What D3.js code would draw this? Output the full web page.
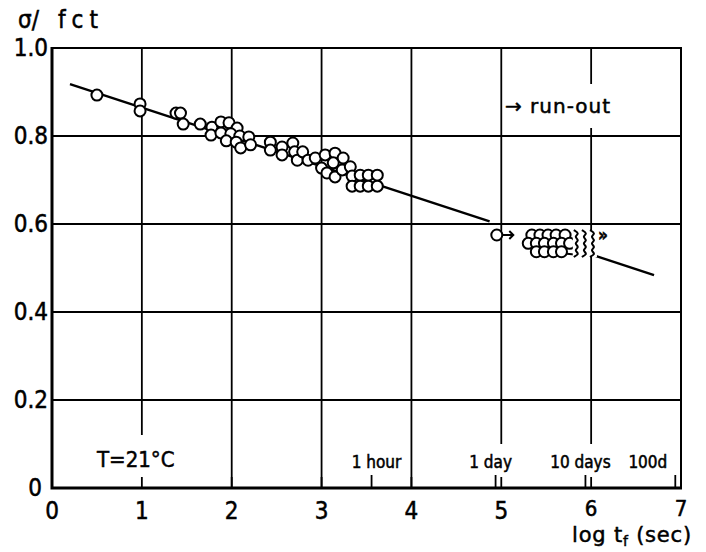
<!DOCTYPE html>
<html>
<head>
<meta charset="utf-8">
<script src="https://cdn.jsdelivr.net/npm/d3@7"></script>
<style>
  body { margin: 0; background: #fff; }
  svg { display: block; font-family: "DejaVu Sans Condensed", "DejaVu Sans", sans-serif; }
  text { fill: #000; stroke: #000; stroke-width: 0.5px; }
</style>
</head>
<body>
<svg id="chart" width="706" height="552"></svg>
<script>
// axes
const xTicks = [0, 1, 2, 3, 4, 5, 6, 7];
const yTicks = [0, 0.2, 0.4, 0.6, 0.8, 1.0];
const yTickLabels = ["0", "0.2", "0.4", "0.6", "0.8", "1.0"];

// time markers along the log t axis
const timeLabels = ["1 hour", "1 day", "10 days", "100d"];
const timeSeconds = [3600, 86400, 864000, 8640000];

// failed specimens: log tf (sec) and sigma/fct
const failX = [0.50, 0.98, 0.98, 1.38, 1.43,
  1.46, 1.65, 1.78, 1.88, 1.97, 2.06, 1.77, 1.88, 1.99, 2.09, 2.19, 1.94, 2.05, 2.10, 2.21,
  2.43, 2.43, 2.56, 2.56, 2.68, 2.70, 2.73, 2.79, 2.85, 2.93,
  3.04, 3.15, 3.24, 3.00, 3.13, 3.06, 3.15, 3.23, 3.32, 3.34, 3.43, 3.52, 3.62, 3.34, 3.43, 3.52, 3.62];
const failY = [0.893, 0.873, 0.857, 0.852, 0.852,
  0.827, 0.827, 0.820, 0.832, 0.830, 0.818, 0.802, 0.807, 0.805, 0.800, 0.798, 0.789, 0.786, 0.773, 0.780,
  0.786, 0.768, 0.775, 0.757, 0.784, 0.764, 0.745, 0.764, 0.745, 0.750,
  0.757, 0.761, 0.750, 0.727, 0.739, 0.716, 0.707, 0.723, 0.730, 0.709, 0.711, 0.711, 0.711, 0.686, 0.686, 0.686, 0.686];

// run-out specimens
const runX = [4.95,
  5.34, 5.43, 5.52, 5.61, 5.71,
  5.30, 5.39, 5.48, 5.58, 5.67, 5.76,
  5.39, 5.48, 5.58, 5.67];
const runY = [0.575,
  0.575, 0.575, 0.575, 0.575, 0.575,
  0.556, 0.556, 0.556, 0.556, 0.556, 0.556,
  0.537, 0.537, 0.537, 0.537];

// wavy run-out tails to the right of the group
const tailX = [5.84, 5.93, 6.02];
const tailTop = 0.586;
const tailBottom = 0.525;

// fitted line, in two pieces around the run-out marks
const fitA = [[0.2, 0.918], [4.87, 0.606]];
const fitB = [[6.04, 0.528], [6.7, 0.484]];

const svg = d3.select("#chart");
const x = d3.scaleLinear().domain([0, 7]).range([52, 681]);
const y = d3.scaleLinear().domain([0, 1]).range([488, 48]);

const gGrid = svg.append("g");
const gBox = svg.append("g");
const gFrame = svg.append("g");
const gLine = svg.append("g");
const gPts = svg.append("g");
const gText = svg.append("g");

// grid
gGrid.selectAll("line.v")
  .data(xTicks.slice(1, -1))
  .join("line")
  .attr("x1", d => x(d)).attr("x2", d => x(d))
  .attr("y1", y(1)).attr("y2", y(0))
  .attr("stroke", "#000").attr("stroke-width", 1.8);

gGrid.selectAll("line.h")
  .data(yTicks.slice(1, -1))
  .join("line")
  .attr("x1", x(0)).attr("x2", x(7))
  .attr("y1", d => y(d)).attr("y2", d => y(d))
  .attr("stroke", "#000").attr("stroke-width", 1.8);

// labels inside the plot get a white box, which cuts the grid like in the print
function plotLabel(txt, px, py, size, anchor, padTop, toAxis) {
  const t = gText.append("text")
    .attr("x", px).attr("y", py)
    .attr("text-anchor", anchor)
    .style("font-size", size + "px")
    .text(txt);
  const b = t.node().getBBox();
  const y0 = b.y - padTop;
  const y1 = toAxis ? y(0) : b.y + b.height + padTop;
  gBox.append("rect")
    .attr("x", b.x - 2).attr("y", y0)
    .attr("width", b.width + 4).attr("height", y1 - y0)
    .attr("fill", "#fff");
  return t;
}

plotLabel("T=21°C", 97, 467, 22, "start", 12, true);
timeLabels.forEach((lab, i) => {
  const tx = x(Math.log10(timeSeconds[i]));
  const last = i === timeLabels.length - 1;
  plotLabel(lab, last ? tx - 8 : tx + (i === 0 ? 5 : -5), 468, 17, last ? "end" : "middle", 8, true);
});
plotLabel("→ run-out", 505, 113, 20, "start", 10, false)
  .style("font-family", "DejaVu Sans")
  .style("letter-spacing", "1px");

// frame
gFrame.append("path")
  .attr("d", `M${x(0)},${y(1)}H${x(7)}V${y(0)}`)
  .attr("fill", "none").attr("stroke", "#000").attr("stroke-width", 2);
gFrame.append("path")
  .attr("d", `M${x(0)},${y(1) - 1}V${y(0)}H${x(7) + 1}`)
  .attr("fill", "none").attr("stroke", "#000").attr("stroke-width", 3);

// short ticks on the x axis
gFrame.selectAll("line.it")
  .data(xTicks.slice(1, -1))
  .join("line")
  .attr("x1", d => x(d)).attr("x2", d => x(d))
  .attr("y1", y(0)).attr("y2", y(0) - 11)
  .attr("stroke", "#000").attr("stroke-width", 1.8);
gFrame.selectAll("line.tt")
  .data(timeSeconds)
  .join("line")
  .attr("x1", d => x(Math.log10(d))).attr("x2", d => x(Math.log10(d)))
  .attr("y1", y(0)).attr("y2", y(0) - 13)
  .attr("stroke", "#000").attr("stroke-width", 1.8);

// fitted line
const line = d3.line().x(d => x(d[0])).y(d => y(d[1]));
[fitA, fitB].forEach(seg => {
  gLine.append("path")
    .attr("d", line(seg))
    .attr("fill", "none").attr("stroke", "#000").attr("stroke-width", 2.4);
});

// points
const r = 5.5;
gPts.selectAll("circle.f")
  .data(failX.map((v, i) => [v, failY[i]]))
  .join("circle")
  .attr("cx", d => x(d[0])).attr("cy", d => y(d[1])).attr("r", r)
  .attr("fill", "#fff").attr("stroke", "#000").attr("stroke-width", 2);

gPts.selectAll("circle.r")
  .data(runX.map((v, i) => [v, runY[i]]))
  .join("circle")
  .attr("cx", d => x(d[0])).attr("cy", d => y(d[1])).attr("r", r)
  .attr("fill", "#fff").attr("stroke", "#000").attr("stroke-width", 2);

// arrow on the single run-out specimen
const ax = x(runX[0]) + r, ay = y(runY[0]);
gPts.append("path")
  .attr("d", `M${ax},${ay}H${ax + 11}M${ax + 7},${ay - 4}L${ax + 11},${ay}L${ax + 7},${ay + 4}`)
  .attr("fill", "none").attr("stroke", "#000").attr("stroke-width", 2);

// dash from last circle of bottom row into the tails
const lastBottom = runX.length - 1;
gPts.append("line")
  .attr("x1", x(runX[lastBottom]) + r).attr("x2", x(tailX[0]))
  .attr("y1", y(runY[lastBottom]) + 2).attr("y2", y(runY[lastBottom]) + 3)
  .attr("stroke", "#000").attr("stroke-width", 2);

// wavy tails
const wave = d3.line().curve(d3.curveBasis);
tailX.forEach(tx => {
  const top = y(tailTop), bot = y(tailBottom);
  const n = 8;
  const pts = d3.range(n + 1).map(k => [x(tx) + (k % 2 ? 3 : -3), top + (bot - top) * k / n]);
  gPts.append("rect")
    .attr("x", x(tx) - 4).attr("y", top).attr("width", 8).attr("height", bot - top)
    .attr("fill", "#fff");
  gPts.append("path")
    .attr("d", wave(pts))
    .attr("fill", "none").attr("stroke", "#000").attr("stroke-width", 2);
});
gText.append("text")
  .attr("x", x(tailX[2]) + 5).attr("y", y(tailTop) + 11)
  .style("font-size", "17px").style("font-weight", "bold")
  .text("»");

// tick labels (the last two sit a little higher and smaller, above the axis title)
gText.selectAll("text.xl")
  .data(xTicks)
  .join("text")
  .attr("x", d => x(d)).attr("y", d => d >= 6 ? 516 : 519)
  .attr("text-anchor", "middle")
  .style("font-size", d => d >= 6 ? "22px" : "24px")
  .text(d => d);

gText.selectAll("text.yl")
  .data(yTicks)
  .join("text")
  .attr("x", (d, i) => i === 0 ? 42 : 48).attr("y", d => y(d) + 8)
  .attr("text-anchor", "end")
  .style("font-size", "24px")
  .text((d, i) => yTickLabels[i]);

// axis titles
const yt = gText.append("text").attr("x", 18).attr("y", 28).style("font-size", "24px");
yt.append("tspan").text("σ/");
yt.append("tspan").attr("x", 58).style("letter-spacing", "6px").text("fct");

const xt = gText.append("text").attr("x", 572).attr("y", 542).style("font-size", "21px")
  .style("font-family", "DejaVu Sans").style("letter-spacing", "0.8px");
xt.append("tspan").text("log t");
xt.append("tspan").attr("dy", 4).style("font-size", "14px").text("f");
xt.append("tspan").attr("dy", -4).text(" (sec)");
</script>
</body>
</html>
